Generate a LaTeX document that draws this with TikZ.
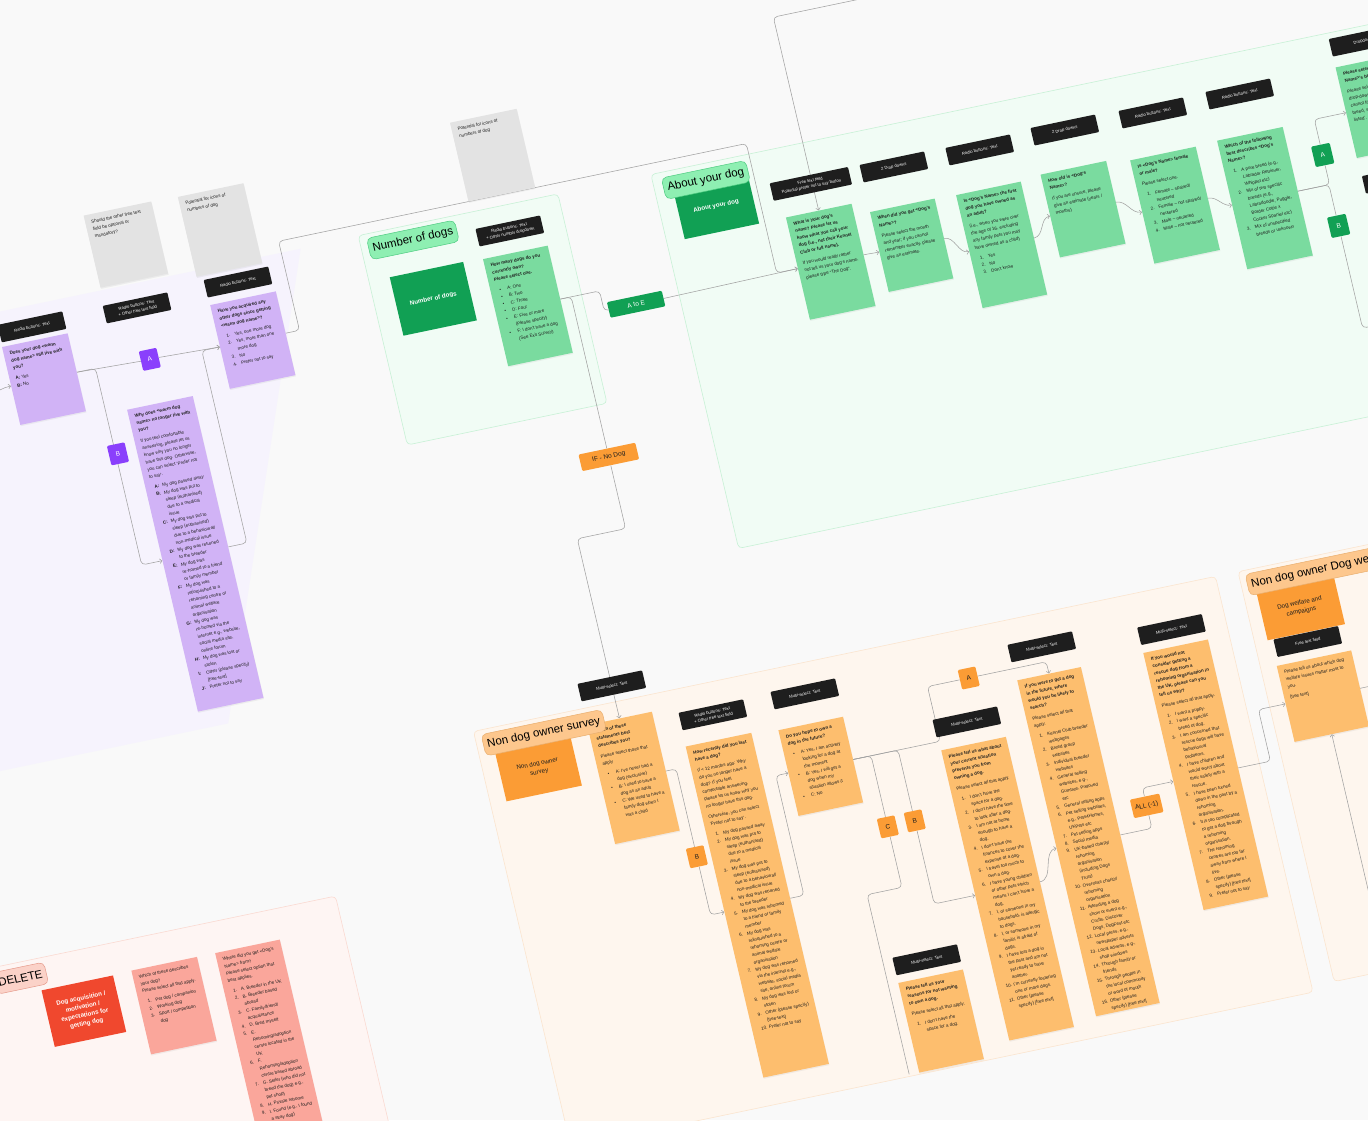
\documentclass[tikz,border=0pt]{standalone}
\usepackage{fontspec}
\setmainfont{Liberation Sans}
\usetikzlibrary{arrows.meta,shadows}
\pgfdeclarelayer{frames}
\pgfdeclarelayer{wires}
\pgfsetlayers{frames,wires,main}

\definecolor{bggray}{HTML}{F9F9F9}
\definecolor{labblack}{HTML}{1E1E1E}
\definecolor{wiregray}{HTML}{A2A2A2}
\definecolor{qtext}{HTML}{1E1E1E}
\definecolor{notegray}{HTML}{E3E3E3}
\definecolor{pfill}{HTML}{F6F3FD}
\definecolor{qpurple}{HTML}{D1B3F6}
\definecolor{tagpurple}{HTML}{8A3FFC}
\definecolor{mintfill}{HTML}{F1FCF5}
\definecolor{mintline}{HTML}{C8F1D6}
\definecolor{mintpill}{HTML}{8EEFB2}
\definecolor{mintpillline}{HTML}{4DCB80}
\definecolor{qgreen}{HTML}{7ADB9F}
\definecolor{darkgreen}{HTML}{11A054}
\definecolor{peachfill}{HTML}{FEF6EE}
\definecolor{peachline}{HTML}{FBE5CF}
\definecolor{peachpill}{HTML}{FDC78D}
\definecolor{peachpillline}{HTML}{E9AE6E}
\definecolor{qorange}{HTML}{FDBE6E}
\definecolor{darkorange}{HTML}{FB9C35}
\definecolor{pinkfill}{HTML}{FEF5F3}
\definecolor{pinkline}{HTML}{FADAD2}
\definecolor{pinkpill}{HTML}{FBD2C8}
\definecolor{pinkpillline}{HTML}{E59A8B}
\definecolor{redbox}{HTML}{F0482E}
\definecolor{qpink}{HTML}{FAA69B}

\newcommand{\boxfont}{\fontsize{4.5}{7.4}\selectfont}
\newcommand{\labfont}{\fontsize{4.2}{5.8}\selectfont}
\newcommand{\tagfont}{\fontsize{6.5}{7.5}\selectfont}
\newcommand{\ttlfont}{\fontsize{11.5}{13}\selectfont}
\newcommand{\secfont}{\fontsize{6.2}{8.5}\selectfont}
\newcommand{\qtxt}[3][55pt]{\parbox[t][#2][t]{#1}{\raggedright #3}}
\newcommand{\qgap}{\par\vspace{3.5pt}}
\newcommand{\li}[2]{\par\hangindent=11pt\hangafter=1\noindent\hspace*{3pt}\makebox[8pt][l]{#1}#2}
\newcommand{\bul}[1]{\li{\textbullet}{#1}}

\tikzset{wire/.style={draw=wiregray, line width=0.55pt, rounded corners=4pt},
  arr/.style={-{Straight Barb[length=2.2pt,width=4.6pt]}},
  lab/.style={fill=labblack, text=white, rounded corners=1pt, minimum width=66pt, minimum height=18pt, inner sep=1pt, align=center, font=\labfont},
  qbox/.style={fill=#1, text=qtext, anchor=north west, inner xsep=6pt, inner ysep=6pt, font=\boxfont,
    drop shadow={shadow xshift=0.5pt, shadow yshift=-1.2pt, opacity=0.1}},
  gnote/.style={qbox=notegray},
  tagbox/.style={fill=#1, minimum width=18pt, minimum height=20pt, rounded corners=1.2pt, inner sep=1pt, font=\tagfont},
  ttl/.style 2 args={fill=#1, draw=#2, line width=0.5pt, rounded corners=5pt, inner xsep=4pt, minimum height=22pt, font=\ttlfont},
  secbox/.style={fill=#1, anchor=north west, align=center, font=\secfont, inner sep=2pt},
  frm/.style 2 args={fill=#1, draw=#2, line width=0.6pt, rounded corners=4pt}}

\begin{document}
\begin{tikzpicture}[x=1pt,y=1pt]
\useasboundingbox (0,0) rectangle (1368,-1120);
\begin{pgfonlayer}{frames}
  \fill[bggray] (0,0) rectangle (1368,-1120);
\end{pgfonlayer}
\begin{scope}[cm={0.9789,0.2045,-0.2284,0.9736,(0,0)}, transform shape]
  \begin{pgfonlayer}{frames}
    \fill[pfill] (-420,-305) -- (236,-305) -- (57,-755) -- (-420,-755) -- cycle;
    \draw[frm={mintfill}{mintline}] (295,-304) rectangle (499,-519);
    \draw[frm={mintfill}{mintline}] (594,-304) rectangle (1520,-688);
    \draw[frm={peachfill}{peachline}] (294,-813) rectangle (1052,-1240);
    \draw[frm={peachfill}{peachline}] (1075,-813) rectangle (1520,-1234);
    \draw[frm={pinkfill}{pinkline}] (-420,-946) rectangle (122,-1320);
  \end{pgfonlayer}

  % dog still with owner
  \node[lab] (plab1) at (-43.5,-326.6) {Radio buttons: Text};
  \node[qbox=qpurple] (pq0) at (-162,-355) {\qtxt{108pt}{}};
  \node[qbox=qpurple] (pq1) at (-77.5,-340) {\qtxt{68pt}{\textbf{Does your dog <warm dog name> still live with you?}\qgap\textbf{A:} Yes\par\textbf{B:} No}};
  \node[gnote] (note1) at (32,-228) {\qtxt[57pt]{62pt}{Should the other free text field be optional or mandatory?}};
  \node[lab] (plab2) at (63.1,-329.5) {Radio buttons: Text\\+ Other free text field};
  \node[gnote] (note2) at (128,-229) {\qtxt{70pt}{Potential for icons of numbers of dog}};
  \node[lab] (plab3) at (167.3,-324.8) {Radio buttons: Text};
  \node[qbox=qpurple] (pq2) at (134.8,-341.5) {\qtxt{74pt}{\textbf{Have you acquired any other dogs since getting <warm dog name>?}\qgap\li{1.}{Yes, one more dog}\li{2.}{Yes, more than one more dog}\li{3.}{No}\li{4.}{Prefer not to say}}};
  \node[qbox=qpurple] (pq3) at (30,-427) {\qtxt{298pt}{\textbf{Why does <warm dog name> no longer live with you?}\qgap If you feel comfortable answering, please let us know why you no longer have this dog. Otherwise, you can select `Prefer not to say'.\qgap
    \li{\textbf{A:}}{My dog passed away}\li{\textbf{B:}}{My dog was put to sleep (euthanised) due to a medical issue}\li{\textbf{C:}}{My dog was put to sleep (euthanised) due to a behavioural/ non-medical issue}\li{\textbf{D:}}{My dog was returned to the breeder}\li{\textbf{E:}}{My dog was re-homed to a friend or family member}\li{\textbf{F:}}{My dog was relinquished to a rehoming centre or animal welfare organisation}\li{\textbf{G:}}{My dog was re-homed via the internet e.g., website, social media site, online forum}\li{\textbf{H:}}{My dog was lost or stolen}\li{\textbf{I:}}{Other (please specify) [free-text]}\li{\textbf{J:}}{Prefer not to say}}};
  \node[tagbox=tagpurple, text=white] (pA) at (63.8,-382.5) {A};
  \node[tagbox=tagpurple, text=white] (pB) at (11.2,-468.5) {B};

  % number of dogs
  \node[gnote] (note3) at (410,-212) {\qtxt[56pt]{69pt}{Potential for icons of numbers of dog}};
  \node[ttl={mintpill}{mintpillline}] (ntitle) at (347.3,-319.4) {Number of dogs};
  \node[secbox=darkgreen, text=white, minimum width=75pt, minimum height=60pt] (nbox) at (316,-351) {\bfseries Number of dogs};
  \node[lab] (nlab) at (443.7,-330.4) {Radio buttons: Text\\+ Other number dropdown};
  \node[qbox=qgreen] (nq) at (411,-352.3) {\qtxt[54pt]{98pt}{\textbf{How many dogs do you currently own?}\\\textbf{Please select one.}\qgap\bul{A: One}\bul{B: Two}\bul{C: Three}\bul{D: Four}\bul{E: Five or more (Please specify)}\bul{F: I don't have a dog (See Exit Survey)}}};
  \node[tagbox=darkgreen, text=white, minimum width=56pt, minimum height=16pt] (atoe) at (550,-428) {A to E};
  \node[tagbox=darkorange, text=qtext, minimum width=58pt, minimum height=17pt] (ifno) at (488.5,-571.9) {IF - No Dog};

  % about your dog
  \node[secbox=darkgreen, text=white, minimum width=76pt, minimum height=52pt] (abox) at (612,-322) {\bfseries About your dog};
  \node[ttl={mintpill}{mintpillline}] (atitle) at (646.3,-320.6) {About your dog};
  \node[lab, minimum width=80pt] (alab1) at (747.6,-345.9) {Free text field\\Potential prefer not to say button};
  \node[qbox=qgreen] (aq1) at (715.5,-373.5) {\qtxt{93pt}{\textbf{What is your dog's name? Please let us know what you call your dog (i.e., not their Kennel Club or full name).}\qgap If you would really rather not tell us your dog's name, please type ``The Dog''.}};
  \node[lab] (alab2) at (832.3,-346.3) {2 Drop downs};
  \node[qbox=qgreen] (aq2) at (798.6,-385.4) {\qtxt[54pt]{70pt}{\textbf{When did you get <Dog's Name>?}\qgap Please select the month and year; if you cannot remember exactly, please give an estimate.}};
  \node[lab] (alab3) at (919.8,-347.2) {Radio buttons: Text};
  \node[qbox=qgreen] (aq3) at (886.3,-386.4) {\qtxt[54pt]{104pt}{\textbf{Is <Dog's Name> the first dog you have owned as an adult?}\qgap (i.e., when you were over the age of 16, excluding any family pets you may have owned as a child)\qgap\li{1.}{Yes}\li{2.}{No}\li{3.}{Don't know}}};
  \node[lab] (alab4) at (1007.2,-345.1) {2 Drop downs};
  \node[qbox=qgreen] (aq4) at (973.2,-383.6) {\qtxt{73pt}{\textbf{How old is <Dog's Name>?}\qgap If you are unsure, please give an estimate (years / months)}};
  \node[lab] (alab5) at (1096.8,-346.4) {Radio buttons: Text};
  \node[qbox=qgreen] (aq5) at (1063.7,-388) {\qtxt{94pt}{\textbf{Is <Dog's Name> female or male?}\qgap Please select one.\qgap\li{1.}{Female -- spayed/ neutered}\li{2.}{Female -- not spayed/ neutered}\li{3.}{Male -- neutered}\li{4.}{Male -- not neutered}}};
  \node[lab] (alab6) at (1185.8,-345.6) {Radio buttons: Text};
  \node[qbox=qgreen] (aq6) at (1152.9,-386.5) {\qtxt{120pt}{\textbf{Which of the following best describes <Dog's Name>?}\qgap\li{1.}{A pure breed (e.g., Labrador Retriever, Whippet etc)}\li{2.}{Mix of two specific breeds (e.g., Labradoodle, Puggle, Border Collie x Cocker Spaniel etc)}\li{3.}{Mix of unspecified breeds or unknown}}};
  \node[tagbox=darkgreen, text=white, minimum width=19pt, minimum height=21pt] (gA) at (1252.7,-422.3) {A};
  \node[tagbox=darkgreen, text=white, minimum width=19pt, minimum height=21pt] (gB) at (1252,-495) {B};
  \node[lab] (alab7) at (1318,-319) {Dropdown};
  \node[qbox=qgreen] (aq7) at (1285,-339) {\qtxt{81pt}{\textbf{Please select <Dog's Name>'s breed}\qgap Please select from the drop-down list. If you cannot find your dog's breed, select `Breed not listed'.}};
  \node[lab] (alab8) at (1319,-460) {};
  \coordinate (topin) at (900,-175);
  \coordinate (bout) at (1330,-600);

  % non dog owner survey
  \node[secbox=darkorange, text=qtext, minimum width=77pt, minimum height=52pt] (obox) at (310,-836) {Non dog owner\\survey};
  \node[lab] (olab1) at (439.1,-796.7) {Multi-select: Text};
  \node[qbox=qorange] (oq1) at (406,-830) {\qtxt[54pt]{110pt}{\textbf{Which of these statements best describes you?}\qgap Please select those that apply\qgap\bul{A: I've never had a dog (exclusive)}\bul{B: I used to have a dog as an adult}\bul{C: We used to have a family dog when I was a child}}};
  \node[ttl={peachpill}{peachpillline}] (otitle) at (362.2,-828.7) {Non dog owner survey};
  \node[lab] (olab2) at (530.9,-845.7) {Radio buttons: Text\\+ Other free text field};
  \node[qbox=qorange] (oq2) at (497,-871) {\qtxt{328pt}{\textbf{How recently did you last have a dog?}\qgap If < 12 months ago: Why do you no longer have a dog? If you feel comfortable answering, please let us know why you no longer have this dog.\qgap Otherwise, you can select `Prefer not to say'.\qgap
    \li{1.}{My dog passed away}\li{2.}{My dog was put to sleep (euthanised) due to a medical issue}\li{3.}{My dog was put to sleep (euthanised) due to a behavioural/ non-medical issue}\li{4.}{My dog was returned to the breeder}\li{5.}{My dog was rehomed to a friend or family member}\li{6.}{My dog was relinquished to a rehoming centre or animal welfare organisation}\li{7.}{My dog was rehomed via the internet e.g., website, social media site, online forum}\li{8.}{My dog was lost or stolen}\li{9.}{Other (please specify) [free-text]}\li{10.}{Prefer not to say}}};
  \node[tagbox=darkorange, text=qtext] (oB) at (482.9,-981.4) {B};
  \node[lab] (olab3) at (625.2,-844) {Multi-select: Text};
  \node[qbox=qorange] (oq3) at (591,-874) {\qtxt[54pt]{76pt}{\textbf{Do you hope to own a dog in the future?}\qgap\bul{A: Yes, I am actively looking for a dog at the moment}\bul{B: Yes, I will get a dog when my situation allows it}\bul{C: No}}};
  \node[lab] (olab4) at (776.6,-904.6) {Multi-select: Text};
  \node[qbox=qorange] (oq4) at (745,-927) {\qtxt[54pt]{286pt}{\textbf{Please tell us what about your current situation prevents you from owning a dog.}\qgap Please select all that apply.\qgap
    \li{1.}{I don't have the space for a dog.}\li{2.}{I don't have the time to look after a dog.}\li{3.}{I am not at home enough to have a dog.}\li{4.}{I don't have the finances to cover the expense of a dog.}\li{5.}{I travel too much to own a dog.}\li{6.}{I have young children or other pets which means I can't have a dog.}\li{7.}{I, or someone in my household, is allergic to dogs.}\li{8.}{I, or someone in my family, is afraid of dogs.}\li{9.}{I have lost a dog in the past and am not yet ready to have another.}\li{10.}{I'm currently fostering one or more dogs.}\li{11.}{Other (please specify) [free text]}}};
  \node[tagbox=darkorange, text=qtext] (oA) at (788.5,-862) {A};
  \node[tagbox=darkorange, text=qtext] (oC) at (675.7,-991.2) {C};
  \node[tagbox=darkorange, text=qtext] (oB2) at (703.3,-990.8) {B};
  \node[lab] (olab5) at (866.7,-846.4) {Multi-select: Text};
  \node[qbox=qorange] (oq5) at (835,-874) {\qtxt[53pt]{333pt}{\textbf{If you were to get a dog in the future, where would you be likely to search?}\qgap Please select all that apply.\qgap
    \li{1.}{Kennel Club breeder webpages}\li{2.}{Breed group websites}\li{3.}{Individual breeder websites}\li{4.}{General selling websites, e.g., Gumtree, Preloved etc}\li{5.}{General selling apps}\li{6.}{Pet selling websites, e.g., Pets4Homes, UKPets etc}\li{7.}{Pet selling apps}\li{8.}{Social media}\li{9.}{UK-based charity/ rehoming organisation (including Dogs Trust)}\li{10.}{Overseas charity/ rehoming organisation}\li{11.}{Attending a dog show or event e.g., Crufts, Discover Dogs, DogFest etc}\li{12.}{Local press, e.g., newspaper adverts}\li{13.}{Local adverts, e.g., shop windows}\li{14.}{Through family or friends}\li{15.}{Through people in the local community or word of mouth}\li{16.}{Other (please specify) [free text]}}};
  \node[tagbox=darkorange, text=qtext, minimum width=30pt, minimum height=19pt] (oALL) at (932.6,-1023.6) {ALL (-1)};
  \node[lab] (olab6) at (997,-856) {Multi-select: Text};
  \node[qbox=qorange] (oq6) at (964,-873) {\qtxt[54pt]{252pt}{\textbf{If you would not consider getting a rescue dog from a rehoming organisation in the UK, please can you tell us why?}\qgap Please select all that apply.\qgap
    \li{1.}{I want a puppy.}\li{2.}{I want a specific breed of dog.}\li{3.}{I am concerned that rescue dogs will have behavioural problems.}\li{4.}{I have children and would worry about their safety with a rescue.}\li{5.}{I have been turned down in the past by a rehoming organisation.}\li{6.}{It is too complicated to get a dog through a rehoming organisation.}\li{7.}{The rehoming centres are too far away from where I live.}\li{8.}{Other (please specify) [free text]}\li{9.}{Prefer not to say}}};
  \node[lab] (olab7) at (683.2,-1129.3) {Multi-select: Text};
  \node[qbox=qorange] (oq7) at (650,-1146) {\qtxt[54pt]{80pt}{\textbf{Please tell us your reasons for not wanting to own a dog.}\qgap Please select all that apply.\qgap\li{1.}{I don't have the space for a dog.}}};
  \coordinate (cend) at (640,-1238);

  % dog welfare
  \node[secbox=darkorange, text=qtext, minimum width=79pt, minimum height=51pt] (rbox) at (1088,-835) {Dog welfare and\\campaigns};
  \node[ttl={peachpill}{peachpillline}, anchor=west] (rtitle) at (1081,-828) {Non dog owner Dog welfare};
  \node[lab] (rlab) at (1127,-895.6) {Free text field};
  \node[qbox=qorange] (rq) at (1091,-913) {\qtxt[64pt]{66pt}{Please tell us about which dog welfare issues matter most to you.\qgap [free text]}};
  \coordinate (rin) at (1129,-1234);
  \coordinate (rout) at (1260,-952);

  % delete
  \node[ttl={pinkpill}{pinkpillline}, anchor=east] (dtitle) at (-177,-962) {DELETE};
  \node[secbox=redbox, text=white, minimum width=73pt, minimum height=58pt] (dbox) at (-186,-978) {\bfseries Dog acquisition /\\\bfseries motivation /\\\bfseries expectations for\\\bfseries getting dog};
  \node[qbox=qpink] (dq1) at (-94,-977) {\qtxt{74pt}{Which of these describes your dog?\\Please select all that apply.\qgap\li{1.}{Pet dog / companion}\li{2.}{Working dog}\li{3.}{Sport / competition dog}}};
  \node[qbox=qpink] (dq2) at (-8.4,-977) {\qtxt[54pt]{228pt}{Where did you get <Dog's Name> from?\\Please select option that best applies.\qgap\li{1.}{A. Breeder in the UK}\li{2.}{B. Breeder based abroad}\li{3.}{C. Family/friend/ acquaintance}\li{4.}{D. Bred myself}\li{5.}{E. Rehoming/adoption centre located in the UK}\li{6.}{F. Rehoming/adoption centre based abroad}\li{7.}{G. Seller (who did not breed the dog) e.g., pet shop)}\li{8.}{H. Private rehome}\li{9.}{I. Found (e.g., I found a stray dog)}}};

  \begin{pgfonlayer}{wires}
    \draw[wire,arr] (pq0.east) to[out=0,in=180] (pq1.west);
    \draw[wire] (pq1.east) -- (pA.west);
    \draw[wire,arr] (pA.east) -- (pq2.west);
    \draw[wire,arr] (pq1.east) -- ++(19,0) |- (pq3.west);
    \draw[wire,arr] (pq3.east) -- ++(19,0) |- (pq2.west);
    \draw[wire,arr] (pq2.east) -- ++(14,0) -- ++(0,91.5) -| ([xshift=-21.5pt]aq1.west) -- (aq1.west);
    \draw[wire] (nq.east) -- ++(40,0) |- (atoe.west);
    \draw[wire,arr] (atoe.east) -- (aq1.west);
    \draw[wire] (nq.east) -| (ifno.north);
    \draw[wire] (ifno.south) -- ++(0,-65) -| (olab1.north);
    \draw[wire,arr] (olab1.south) -- (oq1.north);
    \draw[wire,arr] (topin) -| (aq1.north);
    \draw[wire,arr] (aq1.east) to[out=0,in=180] (aq2.west);
    \draw[wire,arr] (aq2.east) to[out=0,in=180] (aq3.west);
    \draw[wire,arr] (aq3.east) to[out=0,in=180] (aq4.west);
    \draw[wire,arr] (aq4.east) to[out=0,in=180] (aq5.west);
    \draw[wire,arr] (aq5.east) to[out=0,in=180] (aq6.west);
    \draw[wire] (aq6.east) -| (gA.south);
    \draw[wire,arr] (gA.north) |- (aq7.west);
    \draw[wire] (aq6.east) -| (gB.north);
    \draw[wire] (gB.south) |- (bout);
    \draw[wire] (oq1.east) -| (oB.north);
    \draw[wire,arr] (oB.south) |- (oq2.west);
    \draw[wire,arr] (oq2.east) -- ++(14,0) |- (oq3.west);
    \draw[wire] (oq3.east) -- ++(89,0) |- (oA.west);
    \draw[wire,arr] (oA.east) -| (oq5.north);
    \draw[wire] (oq3.east) -| (oC.north);
    \draw[wire] (oC.south) -- ++(0,-52) -| (cend);
    \draw[wire] (oq3.east) -| (oB2.north);
    \draw[wire,arr] (oB2.south) |- (oq4.west);
    \draw[wire,arr] (oq4.east) to[out=0,in=180] (oq5.west);
    \draw[wire] (oq5.east) -| (oALL.south);
    \draw[wire,arr] (oALL.north) |- (oq6.west);
    \draw[wire,arr] (oq6.east) -- ++(33,0) |- (rq.west);
    \draw[wire,arr] (rin) -- (rq.south);
    \draw[wire] (rq.east) -- (rout);
  \end{pgfonlayer}
\end{scope}
\end{tikzpicture}
\end{document}
